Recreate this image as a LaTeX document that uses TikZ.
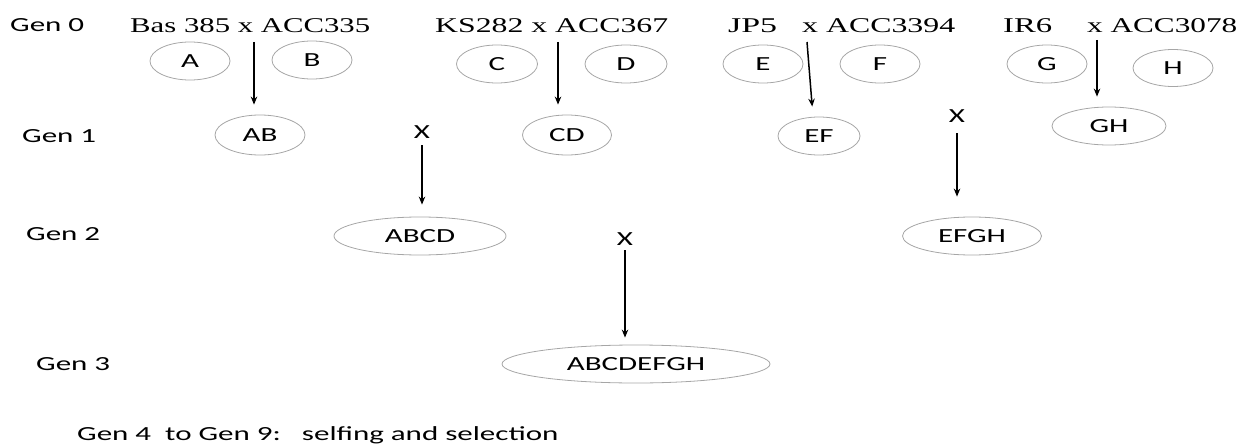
\documentclass[tikz,border=0pt]{standalone}
\usepackage{graphicx}
\usepackage{fontspec}
\setmainfont{Liberation Serif}
\newfontfamily\labelfont{Carlito}
\usetikzlibrary{shapes.geometric,arrows.meta,calc}

% wide-set sans text
\newcommand{\hx}[1]{\scalebox{1.55}[1]{#1}}
% parent names stretched to a set width
\newcommand{\fitto}[2]{\resizebox{#1}{\height}{#2}}

\tikzset{
  lab/.style={font=\labelfont\fontsize{20}{24}\selectfont, inner sep=0pt, anchor=base west},
  parent/.style={font=\fontsize{21}{25}\selectfont, inner sep=0pt, anchor=base west},
  cross/.style={font=\labelfont\fontsize{20}{24}\selectfont, inner sep=0pt, anchor=base},
  geno/.style={ellipse, draw=gray!70, line width=0.8pt, inner sep=0pt,
               font=\labelfont\fontsize{20}{24}\selectfont},
  arr/.style={-{Stealth[length=8pt,width=6.5pt]}, line width=1.5pt}
}

\begin{document}
\begin{tikzpicture}[x=1pt,y=-1pt]
\useasboundingbox (0,0) rectangle (1239,444);

% generation labels
\node[lab] (g0) at (10,32) {\hx{Gen 0}};
\node[lab] (g1) at (22,142) {\hx{Gen 1}};
\node[lab] (g2) at (26,240) {\hx{Gen 2}};
\node[lab] (g3) at (36,370) {\hx{Gen 3}};
\node[lab] (g4) at (77,440) {\hx{Gen 4\ \ to Gen 9:\ \ \ selfing and selection}};

% parental crosses
\node[parent] (p1)  at (130,33)  {\fitto{240pt}{Bas 385 x ACC335}};
\node[parent] (p2)  at (435,33)  {\fitto{233pt}{KS282 x ACC367}};
\node[parent] (p3)  at (728,33)  {\fitto{49pt}{JP5}};
\node[parent] (p3x) at (802,33)  {\fitto{153pt}{x ACC3394}};
\node[parent] (p4)  at (1003,33) {\fitto{49pt}{IR6}};
\node[parent] (p4x) at (1087,33) {\fitto{150pt}{x ACC3078}};

% parents
\node[geno, minimum width=80pt, minimum height=38pt] (A) at (190,61)  {\hx{A}};
\node[geno, minimum width=80pt, minimum height=38pt] (B) at (312,60)  {\hx{B}};
\node[geno, minimum width=81pt, minimum height=38pt] (C) at (497,64)  {\hx{C}};
\node[geno, minimum width=82pt, minimum height=38pt] (D) at (626,64)  {\hx{D}};
\node[geno, minimum width=80pt, minimum height=38pt] (E) at (763,64)  {\hx{E}};
\node[geno, minimum width=80pt, minimum height=38pt] (F) at (880,64)  {\hx{F}};
\node[geno, minimum width=80pt, minimum height=38pt] (G) at (1047,64) {\hx{G}};
\node[geno, minimum width=80pt, minimum height=37pt] (H) at (1173,68) {\hx{H}};

% F1
\node[geno, minimum width=90pt,  minimum height=40pt] (AB) at (260,135)  {\hx{AB}};
\node[geno, minimum width=89pt,  minimum height=40pt] (CD) at (567,135)  {\hx{CD}};
\node[geno, minimum width=82pt,  minimum height=38pt] (EF) at (819,136)  {\hx{EF}};
\node[geno, minimum width=114pt, minimum height=38pt] (GH) at (1109,126) {\hx{GH}};

% double crosses and final cross
\node[geno, minimum width=172pt, minimum height=38pt] (ABCD) at (420,236) {\hx{ABCD}};
\node[geno, minimum width=139pt, minimum height=38pt] (EFGH) at (972,236) {\hx{EFGH}};
\node[geno, minimum width=268pt, minimum height=38pt] (ABCDEFGH) at (636,364) {\hx{ABCDEFGH}};

% cross marks
\node[cross] (x1) at (422,138) {\hx{X}};
\node[cross] (x2) at (625,245) {\hx{X}};
\node[cross] (x3) at (957,122) {\hx{X}};

% arrows from the single crosses
\coordinate (sAB) at (254,42);
\coordinate (sCD) at (558,42);
\coordinate (sEF) at (807,42);
\coordinate (sGH) at (1097,40);
\draw[arr, shorten >=10pt] (sAB) -- (sAB |- AB.north);
\draw[arr, shorten >=10pt] (sCD) -- (sCD |- CD.north);
\draw[arr, shorten >=10pt] (sEF) -- ($(EF.north)+(-6,0)$);
\draw[arr, shorten >=10pt] (sGH) -- (sGH |- GH.north);

% arrows from the later crosses
\draw[arr, shorten <=7pt, shorten >=12pt] (x1.south) -- (x1.south |- ABCD.north);
\draw[arr, shorten <=5pt, shorten >=7pt]  (x2.south) -- (x2.south |- ABCDEFGH.north);
\draw[arr, shorten <=11pt, shorten >=20pt] (x3.south) -- (x3.south |- EFGH.north);
\end{tikzpicture}
\end{document}
